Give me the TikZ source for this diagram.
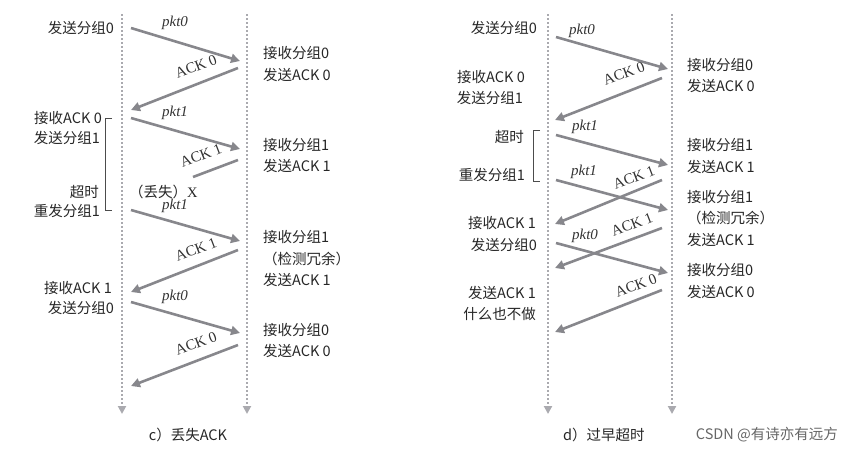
\documentclass[tikz,border=0pt]{standalone}
\usepackage{fontspec}
\setmainfont{Liberation Serif}
\newfontfamily\cjk{Noto Sans CJK SC}
\newfontfamily\wm{Noto Sans CJK SC}
\usetikzlibrary{arrows.meta}
\definecolor{arr}{RGB}{135,135,140}
\definecolor{dotc}{RGB}{170,170,175}
\begin{document}
\begin{tikzpicture}[x=1pt,y=-1pt,
  msg/.style={draw=arr,line width=2.6pt,-{Triangle[length=9pt,width=9pt]}},
  lost/.style={draw=arr,line width=2.6pt},
  tl/.style={font=\cjk\fontsize{14.5}{15}\selectfont,anchor=east,inner sep=1pt,text=black!85},
  tr/.style={font=\cjk\fontsize{14.5}{15}\selectfont,anchor=west,inner sep=1pt,text=black!85},
  pk/.style={font=\itshape\fontsize{15}{16}\selectfont,text=black!80,inner sep=0pt},
  ak/.style={font=\fontsize{15}{16}\selectfont,text=black!80,inner sep=0pt,rotate=21,xshift=-1pt,yshift=3pt},
  tline/.style={draw=dotc,line width=2pt,dotted,-{Triangle[length=8pt,width=8pt]}},
  brk/.style={draw=black!70,line width=0.6pt}]
\useasboundingbox (0,0) rectangle (853,453);
% timelines
\foreach \n/\x in {cs/122,cr/247,ds/548,dr/672}{
  \coordinate (\n T) at (\x,14); \coordinate (\n B) at (\x,414);
  \draw[tline] (\n T) -- (\n B);}
% ---------- panel c ----------
\coordinate (c1) at (131,28); \coordinate (c2) at (240,61);
\coordinate (c3) at (238,68); \coordinate (c4) at (131,110);
\coordinate (c5) at (131,118); \coordinate (c6) at (240,149);
\coordinate (c7) at (238,160); \coordinate (c8) at (193,177);
\coordinate (c9) at (131,210); \coordinate (c10) at (240,241);
\coordinate (c11) at (238,250); \coordinate (c12) at (131,292);
\coordinate (c13) at (131,302); \coordinate (c14) at (240,333);
\coordinate (c15) at (238,345); \coordinate (c16) at (131,386);
\draw[msg] (c1) -- (c2); \draw[msg] (c3) -- (c4);
\draw[msg] (c5) -- (c6); \draw[lost] (c7) -- (c8);
\draw[msg] (c9) -- (c10); \draw[msg] (c11) -- (c12);
\draw[msg] (c13) -- (c14); \draw[msg] (c15) -- (c16);
\node[pk] (cp0) at (175,23) {pkt0};
\node[ak] (ca0) at (198,69) {ACK 0};
\node[pk] (cp1) at (175,113) {pkt1};
\node[ak] (ca1) at (203,158) {ACK 1};
\node[tl,anchor=west] (clost) at (128,192) {（丢失）\rmfamily X};
\node[pk] (cp1b) at (175,206) {pkt1};
\node[ak] (ca1b) at (198,252) {ACK 1};
\node[pk] (cp0b) at (175,297) {pkt0};
\node[ak] (ca0b) at (198,346) {ACK 0};
\node[tl] (cl1) at (115,28) {发送分组0};
\node[tl] (cl2) at (103,118) {接收ACK 0};
\node[tl] (cl3) at (101,138) {发送分组1};
\node[tl] (cl4) at (100,192) {超时};
\node[tl] (cl5) at (101,211) {重发分组1};
\node[tl] (cl6) at (113,288) {接收ACK 1};
\node[tl] (cl7) at (115,308) {发送分组0};
\draw[brk] (112,118) -- (105,118) -- (105,210) -- (112,210);
\node[tr] (cr1) at (262,53) {接收分组0};
\node[tr] (cr2) at (262,75) {发送ACK 0};
\node[tr] (cr3) at (262,145) {接收分组1};
\node[tr] (cr4) at (262,166) {发送ACK 1};
\node[tr] (cr5) at (262,237) {接收分组1};
\node[tr] (cr6) at (262,259) {（检测冗余）};
\node[tr] (cr7) at (262,280) {发送ACK 1};
\node[tr] (cr8) at (262,330) {接收分组0};
\node[tr] (cr9) at (262,351) {发送ACK 0};
\node[tr,anchor=center] (ccap) at (188,435) {c）丢失ACK};
% ---------- panel d ----------
\coordinate (d1) at (556,37); \coordinate (d2) at (668,69);
\coordinate (d3) at (662,78); \coordinate (d4) at (555,120);
\coordinate (d5) at (556,135); \coordinate (d6) at (668,165);
\coordinate (d7) at (556,180); \coordinate (d8) at (668,210);
\coordinate (d9) at (662,180); \coordinate (d10) at (555,224);
\coordinate (d11) at (556,243); \coordinate (d12) at (668,273);
\coordinate (d13) at (662,228); \coordinate (d14) at (555,268);
\coordinate (d15) at (662,290); \coordinate (d16) at (555,332);
\draw[msg] (d1) -- (d2); \draw[msg] (d3) -- (d4);
\draw[msg] (d5) -- (d6); \draw[msg] (d7) -- (d8);
\draw[msg] (d9) -- (d10); \draw[msg] (d11) -- (d12);
\draw[msg] (d13) -- (d14); \draw[msg] (d15) -- (d16);
\node[pk] (dp0) at (582,31) {pkt0};
\node[ak] (da0) at (626,76) {ACK 0};
\node[pk] (dp1) at (585,127) {pkt1};
\node[pk] (dp1b) at (584,172) {pkt1};
\node[ak] (da1) at (636,180) {ACK 1};
\node[pk] (dp0b) at (585,236) {pkt0};
\node[ak] (da1b) at (634,227) {ACK 1};
\node[ak] (da0b) at (638,288) {ACK 0};
\node[tl] (dl1) at (538,28) {发送分组0};
\node[tl] (dl2) at (526,77) {接收ACK 0};
\node[tl] (dl3) at (524,98) {发送分组1};
\node[tl] (dl4) at (525,137) {超时};
\node[tl] (dl5) at (526,175) {重发分组1};
\node[tl] (dl6) at (537,223) {接收ACK 1};
\node[tl] (dl7) at (538,245) {发送分组0};
\node[tl] (dl8) at (537,293) {发送ACK 1};
\node[tl] (dl9) at (537,314) {什么也不做};
\draw[brk] (540,130) -- (533,130) -- (533,181) -- (540,181);
\node[tr] (dr1) at (686,65) {接收分组0};
\node[tr] (dr2) at (686,86) {发送ACK 0};
\node[tr] (dr3) at (686,145) {接收分组1};
\node[tr] (dr4) at (686,167) {发送ACK 1};
\node[tr] (dr5) at (686,197) {接收分组1};
\node[tr] (dr6) at (686,218) {（检测冗余）};
\node[tr] (dr7) at (686,240) {发送ACK 1};
\node[tr] (dr8) at (686,270) {接收分组0};
\node[tr] (dr9) at (686,292) {发送ACK 0};
\node[tr] (dcap) at (562,435) {d）过早超时};
\node[font=\wm\fontsize{14.5}{15}\selectfont,text=black!60,anchor=east,inner sep=0pt] (wmk) at (838,435) {CSDN @有诗亦有远方};
\end{tikzpicture}
\end{document}
